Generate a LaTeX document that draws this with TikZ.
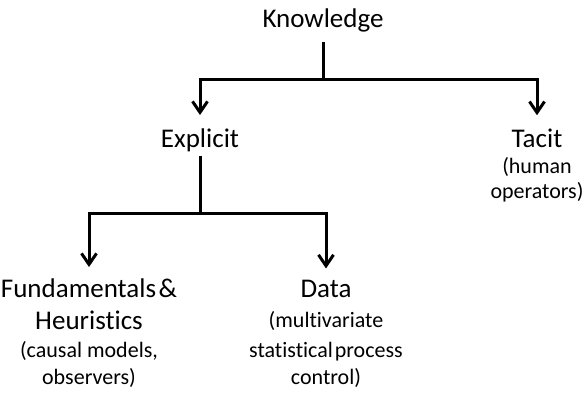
\documentclass[tikz,border=0pt]{standalone}
\usepackage{fontspec}
\setmainfont[Ligatures=NoCommon]{Carlito}
\usetikzlibrary{arrows.meta}
\begin{document}
\begin{tikzpicture}[x=1pt,y=-1pt,
  big/.style={font=\fontsize{27}{31}\selectfont, inner sep=0pt, anchor=base},
  small/.style={font=\fontsize{22}{26}\selectfont, inner sep=0pt, anchor=base},
  conn/.style={line width=3pt, line join=miter},
  arr/.style={conn, -{Straight Barb[length=11pt,width=15pt,line width=3pt]}}]
\useasboundingbox[fill=white] (0,0) rectangle (586,392);
% nodes
\node[big] (know) at (323,27) {Knowledge};
\node[big] (explicit) at (200,147) {Explicit};
\node[big] (tacit) at (537,147) {Tacit};
\node[small] (tacitA) at (537,173) {(human};
\node[small] (tacitB) at (537,198) {operators)};
\node[big] (fund) at (89,297) {Fundamentals\hspace{2.5pt}\&};
\node[big] (fundB) at (89,329) {Heuristics};
\node[small] (fundC) at (89,357) {(causal models,};
\node[small] (fundD) at (89,384) {observers)};
\node[big] (data) at (326,297) {Data};
\node[small] (dataB) at (326,327) {(multivariate};
\node[small] (dataC) at (326,357) {statistical\hspace{2pt}process};
\node[small] (dataD) at (326,384) {control)};
% connectors
\coordinate (kj) at (323,79);
\coordinate (ej) at (200,213);
\draw[conn] ([yshift=-10pt]know.south) -- (kj);
\draw[arr] (kj) -| ([yshift=13pt]explicit.north);
\draw[arr] (kj) -| ([yshift=13pt]tacit.north);
\draw[conn] ([yshift=-4pt]explicit.south) -- (ej);
\draw[arr] (ej) -| ([yshift=11pt]fund.north);
\draw[arr] (ej) -| ([yshift=11pt]data.north);
\end{tikzpicture}
\end{document}
